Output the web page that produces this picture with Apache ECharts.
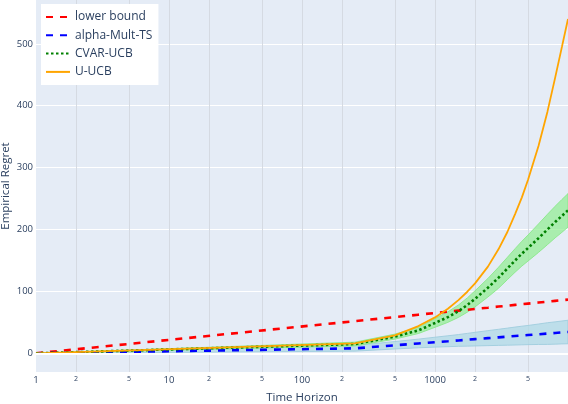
<!DOCTYPE html>
<html>
<head>
<meta charset="utf-8">
<script src="https://cdn.jsdelivr.net/npm/echarts@6/dist/echarts.min.js"></script>
<style>
  html, body { margin: 0; padding: 0; background: #fff; }
  #chart { width: 568px; height: 404px; }
</style>
</head>
<body>
<div id="chart"></div>
<script>
// time horizon samples (log axis) and regret readings
const tHorizon = [1, 250, 500, 750, 1000, 1250, 1500, 1750, 2000, 2500, 3000, 3500, 4000, 4500, 5000, 6000, 7000, 8000, 9000, 10000];
const lowerBound = [0, 52, 58.5, 62.4, 65.1, 67.2, 69, 70.4, 71.6, 73.7, 75.5, 76.9, 78.2, 79.3, 80.3, 82, 83.4, 84.7, 85.8, 86.8];
const multTS = [0, 8, 13, 15.9, 18, 19.5, 20.8, 21.9, 22.9, 24.5, 25.8, 26.9, 27.9, 28.7, 29.5, 30.8, 31.9, 32.8, 33.7, 34.4];
const multTSLow = [0, 3.5, 7, 8.9, 10, 10.7, 11.3, 11.6, 11.9, 12.4, 12.8, 13.1, 13.4, 13.7, 14, 14.3, 14.4, 14.8, 15.2, 15.4];
const multTSHigh = [0, 12.5, 19, 22.9, 26, 28.3, 30.3, 32.2, 33.9, 36.6, 38.8, 40.7, 42.4, 43.8, 45, 47.3, 49.4, 50.8, 52.2, 53.4];
const cvarUCB = [0, 15, 27, 37, 49, 58.5, 68, 78, 88, 106, 122, 137, 150, 161, 170, 186, 200, 212, 222, 231];
const cvarLow = [0, 12, 23, 32, 42, 50, 58, 66.5, 75, 91, 105, 119, 131, 141, 149, 163, 175.5, 186.5, 195.5, 204];
const cvarHigh = [0, 18, 31, 42, 56, 67, 78, 89.5, 101, 121, 139, 155, 169, 181, 191, 209, 224.5, 237.5, 248.5, 258];
const uUCB = [0, 16, 29, 44, 58, 72, 86, 99.5, 113, 140, 168, 196, 225, 252, 280, 335, 390, 445, 495, 540];

const xTickValues = [1, 2, 5, 10, 20, 50, 100, 200, 500, 1000, 2000, 5000];
const yTickValues = [0, 100, 200, 300, 400, 500];

const chart = echarts.init(document.getElementById('chart'));
const lg = (t) => Math.log10(t);
const pairs = (ys) => ys.map((y, i) => [lg(tHorizon[i]), y]);

const textColor = '#2a3f5f';
const font = 'Open Sans';

// shaded band between lo and hi, drawn through the chart's own coords
function band(name, lo, hi, fill, edge) {
  return {
    name: name, type: 'custom', silent: true, clip: true,
    data: [[0, 0]],
    renderItem: function (params, api) {
      const top = tHorizon.map((t, i) => api.coord([lg(t), hi[i]]));
      const bottom = tHorizon.map((t, i) => api.coord([lg(t), lo[i]])).reverse();
      return {
        type: 'polygon',
        shape: { points: top.concat(bottom) },
        style: { fill: fill, stroke: edge, lineWidth: 1 },
      };
    },
    z: 1,
  };
}

const option = {
  animation: false,
  textStyle: { fontFamily: font },
  grid: {
    left: 36, right: 0, top: 0, bottom: 32,
    outerBoundsMode: 'none', containLabel: false,
    show: true, backgroundColor: '#E5ECF6', borderWidth: 0,
  },
  legend: {
    orient: 'vertical',
    left: 41, top: 4,
    backgroundColor: '#ffffff',
    padding: [7, 6, 7, 4],
    itemWidth: 24, itemHeight: 12, itemGap: 6.3,
    itemStyle: { opacity: 0 },
    textStyle: { color: textColor, fontSize: 12, fontFamily: font },
    data: ['lower bound', 'alpha-Mult-TS', 'CVAR-UCB', 'U-UCB'],
  },
  xAxis: {
    type: 'value', min: 0, max: 4,
    name: 'Time Horizon', nameLocation: 'middle', nameGap: 20, nameMoveOverlap: false,
    nameTextStyle: { color: textColor, fontSize: 11.5, fontFamily: font },
    axisLine: { show: false },
    axisTick: { show: false, customValues: xTickValues.slice(1).map(lg) },
    splitLine: { show: true, lineStyle: { color: '#d5dae2', width: 1 } },
    axisLabel: {
      customValues: xTickValues.map(lg),
      margin: 3,
      formatter: function (v) {
        const s = String(Math.round(Math.pow(10, v)));
        return s[0] === '1' ? '{major|' + s + '}' : '{minor|' + s[0] + '}';
      },
      rich: {
        major: { fontSize: 9.5, color: textColor, fontFamily: font },
        minor: { fontSize: 7, color: textColor, fontFamily: font },
      },
    },
  },
  yAxis: {
    type: 'value', min: -30.2, max: 570.8,
    name: 'Empirical Regret', nameLocation: 'middle', nameGap: 24, nameMoveOverlap: false,
    nameTextStyle: { color: textColor, fontSize: 11.5, fontFamily: font },
    axisLine: { show: false },
    axisTick: { show: false, customValues: yTickValues },
    splitLine: { show: true, lineStyle: { color: '#ffffff', width: 1 } },
    axisLabel: {
      customValues: yTickValues, margin: 3,
      color: textColor, fontSize: 9.5, fontFamily: font,
    },
  },
  series: [
    band('ts band', multTSLow, multTSHigh, 'rgba(173,216,230,0.7)', 'rgba(160,205,222,0.9)'),
    band('cvar band', cvarLow, cvarHigh, 'rgba(144,238,144,0.7)', 'rgba(140,232,140,0.95)'),
    {
      name: 'zero', type: 'line', data: [], silent: true,
      markLine: {
        silent: true, symbol: 'none', label: { show: false },
        lineStyle: { color: '#ffffff', width: 2, type: 'solid' },
        data: [{ yAxis: 0 }],
      },
      z: 0,
    },
    {
      name: 'lower bound', type: 'line', symbol: 'none', data: pairs(lowerBound),
      lineStyle: { color: '#ff0000', width: 2.6, type: [7, 7] },
      itemStyle: { color: '#ff0000' }, z: 3,
    },
    {
      name: 'alpha-Mult-TS', type: 'line', symbol: 'none', data: pairs(multTS),
      lineStyle: { color: '#0000ff', width: 2.6, type: [7, 7] },
      itemStyle: { color: '#0000ff' }, z: 3,
    },
    {
      name: 'CVAR-UCB', type: 'line', symbol: 'none', data: pairs(cvarUCB),
      lineStyle: { color: '#008000', width: 2.6, type: [2.5, 2.5] },
      itemStyle: { color: '#008000' }, z: 3,
    },
    {
      name: 'U-UCB', type: 'line', symbol: 'none', data: pairs(uUCB),
      lineStyle: { color: '#ffa500', width: 1.8 },
      itemStyle: { color: '#ffa500' }, z: 3,
    },
  ],
};

chart.setOption(option);
window.addEventListener('resize', () => chart.resize());
</script>
</body>
</html>
